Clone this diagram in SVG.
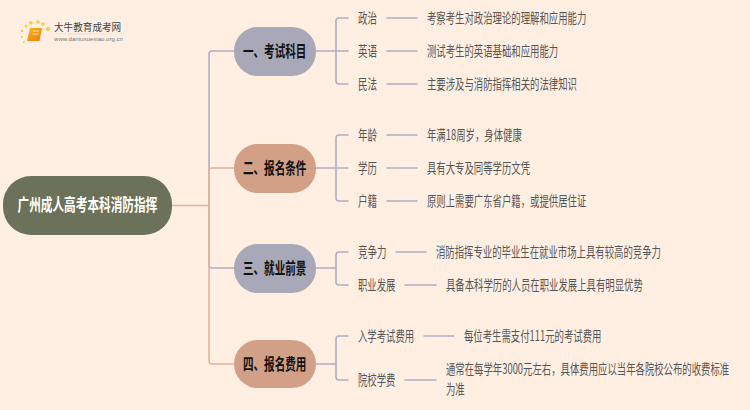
<svg xmlns="http://www.w3.org/2000/svg" width="750" height="410" viewBox="0 0 750 410">
<defs>
<linearGradient id="book" x1="0" y1="0" x2="1" y2="1"><stop offset="0" stop-color="#fbb616"/><stop offset="1" stop-color="#ee7a10"/></linearGradient>
<linearGradient id="rule" x1="0" y1="0" x2="1" y2="0"><stop offset="0" stop-color="#ddd" stop-opacity="0"/><stop offset=".3" stop-color="#d8d4d0"/><stop offset="1" stop-color="#ddd" stop-opacity="0"/></linearGradient>
</defs>
<style>
text{font-family:"Noto Sans CJK SC","Liberation Sans",sans-serif}
.c{fill:none;stroke-width:1.6;stroke-linecap:round}
.g{stroke:#aeaec4}.t{stroke:#e2b49a}
.n{font-size:14px;fill:#555}
.h{font-size:16px;font-weight:700;fill:#111}
</style>
<rect width="750" height="410" fill="#ffefe2"/>
<g id="logo">
<g fill="#fbc944"><circle cx="48" cy="29" r="2"/><circle cx="26" cy="26" r="1.5"/><circle cx="31" cy="23" r="1.8"/><circle cx="38" cy="22" r="1.8"/><circle cx="43" cy="24" r="1.8"/><circle cx="22" cy="31" r="1.2"/><circle cx="22" cy="37" r="1"/><circle cx="24" cy="42" r="1"/></g>
<path d="M30 28h12l-2.500 13h-12.500z" fill="url(#book)"/>
<path d="M33 31h6M32.500 34h6" stroke="#ffe7a8" stroke-width="1"/>
<text font-size="10" fill="#444" transform="translate(54 31) scale(.96 1)">大牛教育成考网</text>
<rect x="50" y="33.500" width="84" height=".8" fill="url(#rule)"/>
<text x="54" y="41" font-size="6" fill="#777" textLength="69" lengthAdjust="spacingAndGlyphs" style="font-family:'Liberation Sans',sans-serif">www.daniuxuexiao.org.cn</text>
</g>
<g id="connectors">
<path class="c g" d="M209 205V54q0-3 3-3H234"/>
<path class="c g" d="M209 205V265q0 3 3 3H234"/>
<path class="c t" d="M172 205.500H209"/>
<path class="c t" d="M209 205V171q0-3 3-3H234"/>
<path class="c t" d="M209 205V361q0 3 3 3H234"/>
<path class="c g" d="M316 51H348M336 51V21q0-3 3-3H348M336 51V81q0 3 3 3H348"/>
<path class="c g" d="M316 168H348M336 168V138q0-3 3-3H348M336 168V198q0 3 3 3H348"/>
<path class="c g" d="M316 268H336M336 268V255q0-3 3-3H348M336 268V282q0 3 3 3H348"/>
<path class="c g" d="M316 364H336M336 364V339q0-3 3-3H348M336 364V377q0 3 3 3H348"/>
<path class="c g" d="M387 18H417M387 51H417M387 84H417M387 135H417M387 168H417M387 201H417M396 252H426M405 285H436M424 336H454M405 380H436"/>
</g>
<g id="root"><rect x="3" y="176" width="169" height="59" rx="28" fill="#6b7259"/><text font-size="17" font-weight="700" fill="#fff" transform="translate(17.500 211) scale(.686 1)">广州成人高考本科消防指挥</text></g>
<g id="cat1"><rect x="234" y="27" width="82" height="49" rx="24" fill="#a8a8b8"/><text class="h" transform="translate(243 57) scale(.66 1)">一、考试科目</text></g>
<g id="cat2"><rect x="234" y="144" width="82" height="49" rx="24" fill="#d2a086"/><text class="h" transform="translate(243 174) scale(.66 1)">二、报名条件</text></g>
<g id="cat3"><rect x="234" y="244" width="82" height="49" rx="24" fill="#a8a8b8"/><text class="h" transform="translate(243 274) scale(.66 1)">三、就业前景</text></g>
<g id="cat4"><rect x="234" y="340" width="82" height="48" rx="24" fill="#d2a086"/><text class="h" transform="translate(243 370) scale(.66 1)">四、报名费用</text></g>
<g id="n1a"><text class="n" transform="translate(358 23) scale(.68 1)">政治</text></g>
<g id="n1b"><text class="n" transform="translate(427 23) scale(.67 1)">考察考生对政治理论的理解和应用能力</text></g>
<g id="n2a"><text class="n" transform="translate(358 56) scale(.68 1)">英语</text></g>
<g id="n2b"><text class="n" transform="translate(427 56) scale(.67 1)">测试考生的英语基础和应用能力</text></g>
<g id="n3a"><text class="n" transform="translate(358 89) scale(.68 1)">民法</text></g>
<g id="n3b"><text class="n" transform="translate(427 89) scale(.67 1)">主要涉及与消防指挥相关的法律知识</text></g>
<g id="n4a"><text class="n" transform="translate(358 140) scale(.68 1)">年龄</text></g>
<g id="n4b"><text class="n" transform="translate(427 140) scale(.67 1)">年满18周岁，身体健康</text></g>
<g id="n5a"><text class="n" transform="translate(358 173) scale(.68 1)">学历</text></g>
<g id="n5b"><text class="n" transform="translate(427 173) scale(.67 1)">具有大专及同等学历文凭</text></g>
<g id="n6a"><text class="n" transform="translate(358 206) scale(.68 1)">户籍</text></g>
<g id="n6b"><text class="n" transform="translate(427 206) scale(.67 1)">原则上需要广东省户籍，或提供居住证</text></g>
<g id="n7a"><text class="n" transform="translate(358 257) scale(.68 1)">竞争力</text></g>
<g id="n7b"><text class="n" transform="translate(436 257) scale(.67 1)">消防指挥专业的毕业生在就业市场上具有较高的竞争力</text></g>
<g id="n8a"><text class="n" transform="translate(358 290) scale(.67 1)">职业发展</text></g>
<g id="n8b"><text class="n" transform="translate(446 290) scale(.67 1)">具备本科学历的人员在职业发展上具有明显优势</text></g>
<g id="n9a"><text class="n" transform="translate(358 341) scale(.67 1)">入学考试费用</text></g>
<g id="n9b"><text class="n" transform="translate(464 341) scale(.67 1)">每位考生需支付111元的考试费用</text></g>
<g id="n10a"><text class="n" transform="translate(358 385) scale(.67 1)">院校学费</text></g>
<g id="n10b"><text class="n" transform="translate(446 374) scale(.67 1)">通常在每学年3000元左右，具体费用应以当年各院校公布的收费标准</text><text class="n" transform="translate(446 394) scale(.67 1)">为准</text></g>
</svg>
